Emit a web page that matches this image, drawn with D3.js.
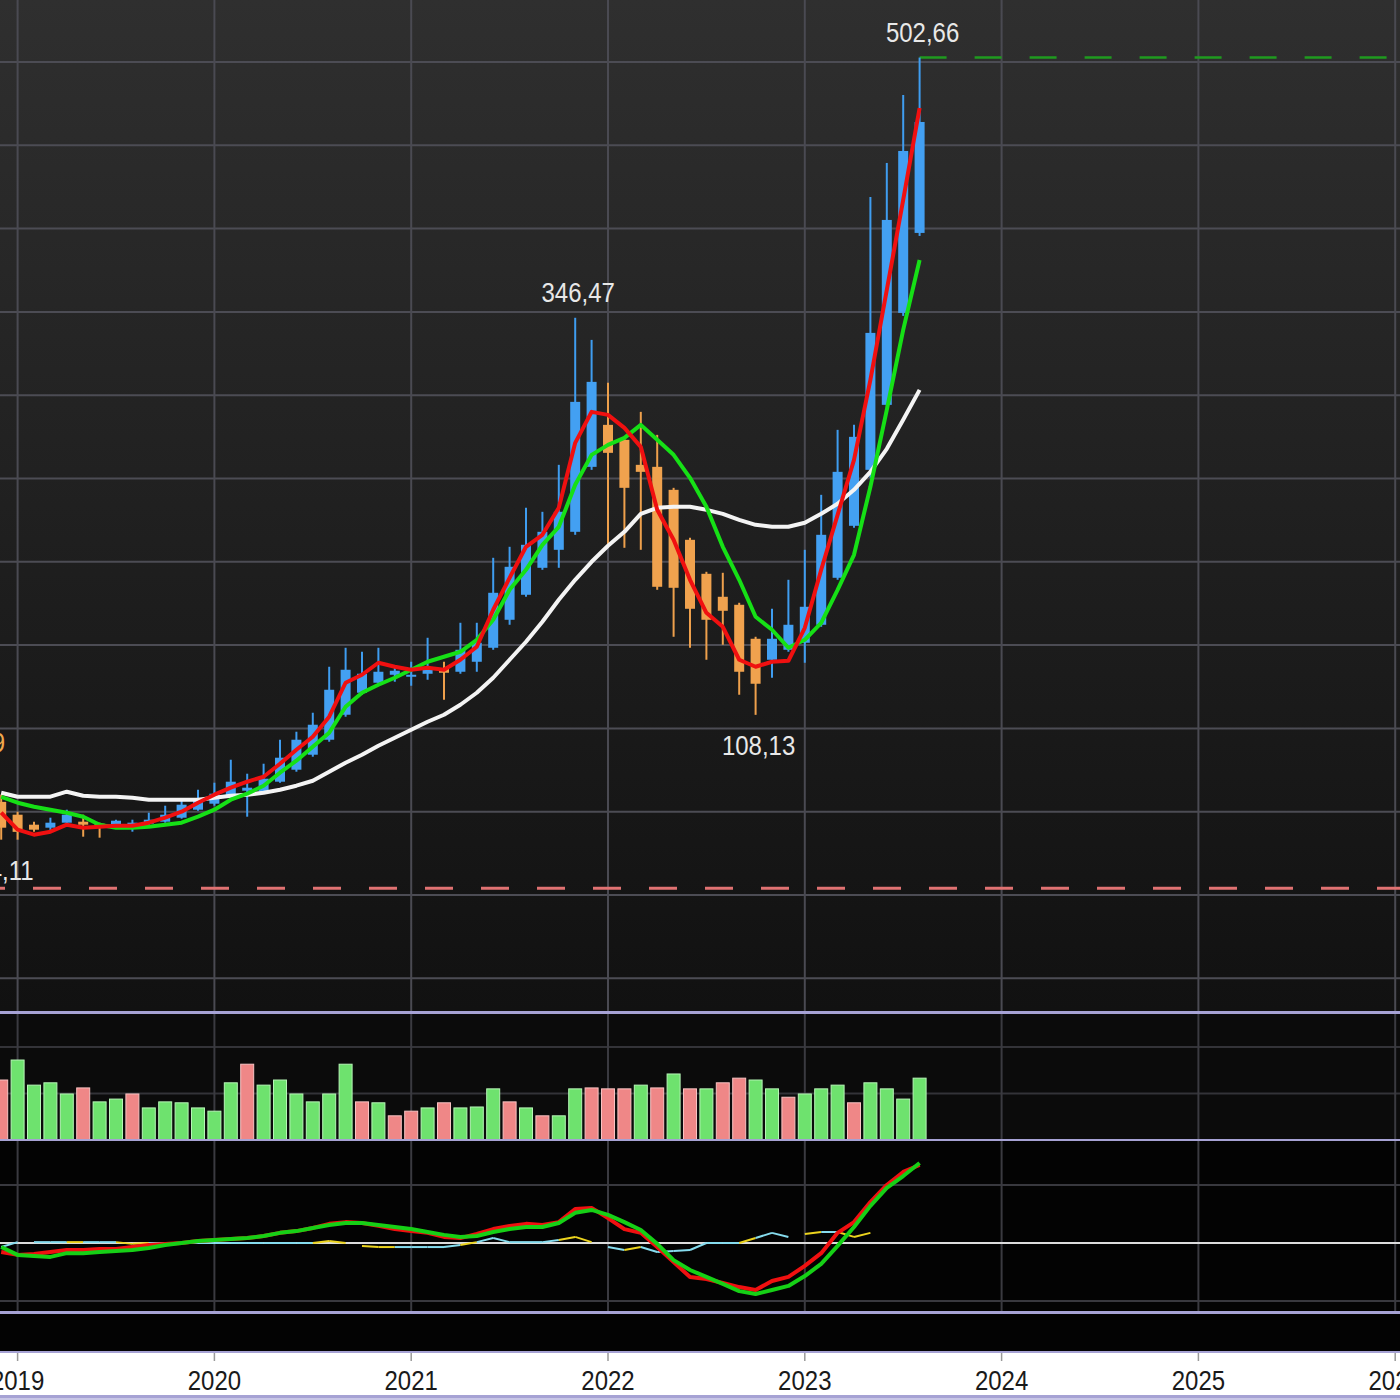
<!DOCTYPE html>
<html><head><meta charset="utf-8">
<script src="https://cdn.jsdelivr.net/npm/d3@7"></script>
<style>html,body{margin:0;padding:0;background:#fff;} svg{display:block}</style>
</head><body>
<svg id="chart" width="1400" height="1400"></svg>
<script>
// months: index 0 = Dec 2018 ... index 56 = Aug 2023
const months = ["2018-12","2019-01","2019-02","2019-03","2019-04","2019-05","2019-06","2019-07","2019-08","2019-09","2019-10","2019-11","2019-12",
"2020-01","2020-02","2020-03","2020-04","2020-05","2020-06","2020-07","2020-08","2020-09","2020-10","2020-11","2020-12",
"2021-01","2021-02","2021-03","2021-04","2021-05","2021-06","2021-07","2021-08","2021-09","2021-10","2021-11","2021-12",
"2022-01","2022-02","2022-03","2022-04","2022-05","2022-06","2022-07","2022-08","2022-09","2022-10","2022-11","2022-12",
"2023-01","2023-02","2023-03","2023-04","2023-05","2023-06","2023-07","2023-08"];
const open  = [55.9,48.2,42.2,40.4,43.4,44.0,42.8,42.2,41.6,42.8,44.0,46.4,51.2,54.8,59.6,62.6,62.0,68.0,75.2,84.2,93.2,108.2,121.4,127.4,132.2,131.0,132.8,135.8,134.0,140.0,148.4,165.2,180.2,196.4,207.2,218.0,257.0,282.2,273.2,258.2,257.0,243.2,213.2,192.8,179.0,174.2,153.8,141.2,147.2,151.4,162.2,190.4,221.6,255.2,294.2,349.4,397.4];
const high  = [60.2,50.0,44.0,46.4,51.2,48.2,43.4,45.2,45.2,49.4,53.6,57.2,63.2,67.4,81.2,72.8,78.8,93.2,98.0,109.4,137.0,148.4,146.0,148.4,136.4,140.0,154.4,140.0,163.4,163.4,202.4,209.0,232.4,230.0,258.2,346.47,333.2,307.4,274.4,290.0,276.2,244.4,214.4,194.0,193.4,175.4,155.0,171.8,189.2,207.2,240.2,279.2,282.2,419.0,439.4,480.2,502.66];
const low   = [33.2,33.2,38.0,37.4,42.2,35.0,34.4,41.6,38.0,41.6,43.4,45.8,50.6,53.6,58.4,47.0,61.4,67.4,74.0,83.0,92.0,107.0,120.2,126.8,128.0,125.6,129.2,117.2,132.8,134.0,147.2,162.2,179.0,195.2,196.4,216.2,255.2,209.0,208.4,207.2,183.2,155.0,148.4,141.2,150.2,120.2,108.13,130.4,146.0,139.4,161.0,189.2,220.4,250.4,292.4,347.6,395.6];
const close = [40.4,37.9,39.2,43.4,48.2,42.2,41.6,44.6,43.4,45.2,48.2,54.2,57.2,60.8,68.0,64.4,69.8,82.4,93.2,102.2,123.2,135.2,132.8,134.0,134.6,132.2,135.8,133.4,147.2,151.4,181.4,197.0,210.2,218.0,230.0,296.0,308.0,265.4,244.4,254.0,185.0,184.4,171.8,165.2,170.6,134.0,126.8,153.8,162.2,173.0,216.2,254.0,275.0,337.4,405.2,446.6,464.0];
const maShort = [49.4,39.2,36.2,38.0,42.2,40.4,41.0,41.6,41.6,43.4,46.4,50.0,55.4,60.2,64.4,68.0,71.0,78.8,87.2,95.0,107.0,127.4,132.2,139.4,137.0,135.2,136.4,135.2,141.2,149.0,171.2,190.4,209.0,216.2,232.4,271.4,290.0,288.2,280.4,269.0,231.2,213.2,189.2,169.4,161.0,141.2,137.0,140.0,140.6,160.4,195.2,228.2,261.2,309.2,363.2,417.2,472.4];
const maMid   = [58.9,55.4,53.0,51.2,49.4,47.0,42.2,40.4,40.4,41.0,42.2,43.4,47.0,51.2,57.2,60.8,65.6,73.4,80.6,89.0,97.4,113.0,121.4,126.2,130.4,135.2,140.0,143.0,146.0,153.2,165.2,183.2,195.2,210.2,221.0,246.2,264.2,270.2,274.4,282.2,273.2,264.2,250.4,233.0,209.0,189.2,167.0,159.2,148.4,153.2,163.4,183.2,204.2,245.0,291.2,339.2,381.2];
const maLong  = [61.4,59.0,59.0,59.0,62.0,59.6,59.0,59.0,58.4,57.2,57.2,57.2,57.2,58.4,59.6,60.2,61.4,63.2,65.6,68.6,74.0,79.4,84.2,89.6,94.4,99.2,104.0,108.2,114.2,121.4,130.4,141.2,152.0,164.0,177.2,189.2,200.0,209.6,218.0,228.8,232.4,233.0,233.0,231.2,228.8,225.2,222.2,221.0,221.0,223.4,228.8,234.8,243.2,254.0,267.8,285.2,303.2];
const volume  = [12.9,17.2,11.8,12.3,9.9,11.2,8.2,8.8,9.9,6.9,8.2,8.0,6.9,6.2,12.3,16.3,11.8,12.9,9.9,8.2,9.9,16.3,8.2,8.0,5.2,6.2,6.9,8.0,6.9,7.1,11.0,8.2,6.9,5.2,5.2,11.0,11.2,11.0,11.0,11.8,11.2,14.2,11.0,11.0,12.3,13.3,12.9,11.0,9.2,9.9,11.0,11.8,8.0,12.3,11.0,8.8,13.3];
const volUp   = [0,1,1,1,1,0,1,1,0,1,1,1,1,1,1,0,1,1,1,1,1,1,0,1,0,0,1,0,1,1,1,0,1,0,1,1,0,0,0,1,0,1,0,1,0,0,1,1,0,1,1,1,0,1,1,1,1];
const oscFast = [-3.1,-4.1,-3.8,-3.1,-2.4,-2.4,-2.1,-2.1,-1.4,-0.7,-0.3,0,0.7,1.0,1.4,1.7,2.4,3.5,4.1,5.2,6.6,7.2,6.9,5.9,4.8,4.1,3.5,2.1,1.7,3.1,4.8,5.9,6.6,6.2,7.2,11.7,12.1,8.6,4.8,3.5,-1.4,-6.6,-11.7,-12.4,-13.8,-15.2,-16.2,-13.1,-11.7,-7.9,-3.5,3.5,7.2,14.1,20.0,24.5,26.9];
const oscSlow = [-1.4,-4.1,-4.5,-4.8,-3.5,-3.5,-3.1,-2.8,-2.4,-1.7,-0.7,0,0.7,1.0,1.4,1.7,2.4,3.5,4.1,5.2,6.2,6.9,6.9,6.2,5.5,4.8,3.8,2.8,2.1,2.4,3.8,4.8,5.5,5.5,6.9,10.4,11.4,9.7,7.2,4.5,-0.3,-5.9,-9.3,-11.7,-14.1,-16.6,-17.6,-16.2,-14.8,-11.4,-7.2,-1.0,5.5,12.8,19.0,23.1,27.6];
const oscThin = [-1.4,0.3,0.3,0.3,0.3,0.3,0.3,0.3,-0.3,0,0,0,0,0,0,0,0,0,0,0,0.7,0,-1.0,-1.4,-1.4,-1.4,-1.4,-1.4,-0.7,0.3,1.7,0.3,0.3,0.3,1.0,2.1,0.3,-1.4,-2.4,-1.4,-3.1,-2.8,-2.4,0,0,0,1.7,3.5,2.1,3.1,3.8,3.8,2.1,3.5,2.4,1.7,1.7];
// segment colour from month i to i+1: c = cyan, y = yellow, - = none
const oscThinSeg = "c-ccyccyyccccccccccyy-yyccccycccccyy-cyccccccycc-ycyy--";
const yearTicks = ["2019","2020","2021","2022","2023","2024","2025","2026"];
const priceGrid = [-50,0,50,100,150,200,250,300,350,400,450,500];
const labels = [{i:56, v:502.66, text:"502,66", pos:"above"},{i:35, v:346.47, text:"346,47", pos:"above"},{i:46, v:108.13, text:"108,13", pos:"below"}];
const allTimeLow = 4.11;
const lowLabel = "4,11";
const edgeLabel = "62,69";

const svg = d3.select("#chart");
const x = d3.scaleLinear().domain([0, 84]).range([17.6, 1395.2]); // months from Jan 2019
const xi = i => x(i - 1);
const yP = d3.scaleLinear().domain([0, 500]).range([895, 62]);
const yV = d3.scaleLinear().domain([0, 20]).range([1140, 1047]);
const yO = d3.scaleLinear().domain([-20, 20]).range([1301, 1185]);

const defs = svg.append("defs");
const g = defs.append("linearGradient").attr("id","bg").attr("x1",0).attr("y1",0).attr("x2",0).attr("y2",1);
g.append("stop").attr("offset","0%").attr("stop-color","#2f2f2f");
g.append("stop").attr("offset","100%").attr("stop-color","#111111");
defs.append("clipPath").attr("id","cMain").append("rect").attr("x",0).attr("y",0).attr("width",1400).attr("height",1011);
defs.append("clipPath").attr("id","cVol").append("rect").attr("x",0).attr("y",1014).attr("width",1400).attr("height",126);
defs.append("clipPath").attr("id","cOsc").append("rect").attr("x",0).attr("y",1141).attr("width",1400).attr("height",171);

svg.append("rect").attr("x",0).attr("y",0).attr("width",1400).attr("height",1011).attr("fill","url(#bg)");
svg.append("rect").attr("x",0).attr("y",1014).attr("width",1400).attr("height",126).attr("fill","#0b0b0b");
svg.append("rect").attr("x",0).attr("y",1141).attr("width",1400).attr("height",211).attr("fill","#030303");
svg.append("rect").attr("x",0).attr("y",1353).attr("width",1400).attr("height",43).attr("fill","#ffffff");
svg.append("rect").attr("x",0).attr("y",1396).attr("width",1400).attr("height",4).attr("fill","#c8c6e6");

const yearIdx = yearTicks.map((d,k)=>k*12);
const main = svg.append("g").attr("clip-path","url(#cMain)");
main.selectAll(".hg").data(priceGrid).join("line")
  .attr("x1",0).attr("x2",1400).attr("y1",d=>yP(d)).attr("y2",d=>yP(d))
  .attr("stroke","#4c4c54").attr("stroke-width",2);
main.selectAll(".vg").data(yearIdx).join("line")
  .attr("x1",d=>x(d)).attr("x2",d=>x(d)).attr("y1",0).attr("y2",1011)
  .attr("stroke","#4a4a52").attr("stroke-width",2);

main.append("line").attr("x1",0).attr("x2",1400).attr("y1",yP(allTimeLow)).attr("y2",yP(allTimeLow))
  .attr("stroke","#e07272").attr("stroke-width",3).attr("stroke-dasharray","28,28").attr("stroke-dashoffset",23);
main.append("line").attr("x1",xi(56)).attr("x2",1400).attr("y1",yP(high[56])).attr("y2",yP(high[56]))
  .attr("stroke","#1f9a1f").attr("stroke-width",2.5).attr("stroke-dasharray","27,28");

const idx = d3.range(months.length);
const cand = main.append("g");
cand.selectAll(".wick").data(idx).join("line")
  .attr("x1",i=>xi(i)).attr("x2",i=>xi(i)).attr("y1",i=>yP(high[i])).attr("y2",i=>yP(low[i]))
  .attr("stroke",i=>close[i]>=open[i]?"#3f9df0":"#eea04c").attr("stroke-width",2);
cand.selectAll(".body").data(idx).join("rect")
  .attr("x",i=>xi(i)-5).attr("width",10)
  .attr("y",i=>yP(Math.max(open[i],close[i])))
  .attr("height",i=>Math.max(2,Math.abs(yP(open[i])-yP(close[i]))))
  .attr("fill",i=>close[i]>=open[i]?"#43a0f2":"#f0a24e");

const line = arr => d3.line().x((d,i)=>xi(i)).y(d=>yP(d))(arr);
main.append("path").attr("d",line(maLong)).attr("fill","none").attr("stroke","#f4f4f4").attr("stroke-width",4).attr("stroke-linejoin","round");
main.append("path").attr("d",line(maMid)).attr("fill","none").attr("stroke","#16e016").attr("stroke-width",4).attr("stroke-linejoin","round");
main.append("path").attr("d",line(maShort)).attr("fill","none").attr("stroke","#f01010").attr("stroke-width",4).attr("stroke-linejoin","round");

const lab = svg.append("g").attr("font-family","'Liberation Sans', Arial, sans-serif").attr("font-size",24).attr("fill","#e8e8e8").attr("text-anchor","middle");
labels.forEach(l=>{
  const ty = l.pos==="above" ? yP(l.v)-16 : yP(l.v)+40;
  lab.append("text").attr("transform",`translate(${xi(l.i)+3},${ty}) scale(1,1.15)`).text(l.text);
});
lab.append("text").attr("transform",`translate(${xi(0)+10},${yP(allTimeLow)-8}) scale(1,1.15)`).text(lowLabel);
lab.append("text").attr("transform",`translate(${xi(0)+4},${yP(60.2)-43}) scale(1,1.15)`).attr("text-anchor","end").attr("fill","#f0a84c").text(edgeLabel);

const vol = svg.append("g").attr("clip-path","url(#cVol)");
vol.selectAll(".vh").data([10,20]).join("line").attr("x1",0).attr("x2",1400).attr("y1",d=>yV(d)).attr("y2",d=>yV(d)).attr("stroke","#333338").attr("stroke-width",2);
vol.selectAll(".vv").data(yearIdx).join("line").attr("x1",d=>x(d)).attr("x2",d=>x(d)).attr("y1",1014).attr("y2",1140).attr("stroke","#3a3a40").attr("stroke-width",2);
vol.selectAll(".vb").data(idx).join("rect")
  .attr("x",i=>xi(i)-6.5).attr("width",13).attr("y",i=>yV(volume[i])).attr("height",i=>yV(0)-yV(volume[i]))
  .attr("fill",i=>volUp[i]?"#6ee26e":"#ef8787").attr("stroke",i=>volUp[i]?"#b6f5b6":"#f8c2c2").attr("stroke-width",1);

const osc = svg.append("g").attr("clip-path","url(#cOsc)");
osc.selectAll(".oh").data([-20,20]).join("line").attr("x1",0).attr("x2",1400).attr("y1",d=>yO(d)).attr("y2",d=>yO(d)).attr("stroke","#38383e").attr("stroke-width",2);
osc.selectAll(".ov").data(yearIdx).join("line").attr("x1",d=>x(d)).attr("x2",d=>x(d)).attr("y1",1141).attr("y2",1312).attr("stroke","#3a3a40").attr("stroke-width",2);
osc.append("line").attr("x1",0).attr("x2",1400).attr("y1",yO(0)).attr("y2",yO(0)).attr("stroke","#dcdcdc").attr("stroke-width",2);
const segCol = {c:"#86dcee", y:"#ecd41e"};
for (let i=0;i<oscThin.length-1;i++){
  const c = oscThinSeg[i];
  if (!segCol[c]) continue;
  osc.append("line").attr("x1",xi(i)).attr("x2",xi(i+1)).attr("y1",yO(oscThin[i])).attr("y2",yO(oscThin[i+1]))
    .attr("stroke",segCol[c]).attr("stroke-width",2);
}
const oline = arr => d3.line().x((d,i)=>xi(i)).y(d=>yO(d))(arr);
osc.append("path").attr("d",oline(oscFast)).attr("fill","none").attr("stroke","#f01010").attr("stroke-width",4).attr("stroke-linejoin","round");
osc.append("path").attr("d",oline(oscSlow)).attr("fill","none").attr("stroke","#16d016").attr("stroke-width",4).attr("stroke-linejoin","round");

[[1012.5,3],[1140,2],[1312.5,3],[1352,2]].forEach(([yy,w])=>{
  svg.append("line").attr("x1",0).attr("x2",1400).attr("y1",yy).attr("y2",yy).attr("stroke","#a6a2d4").attr("stroke-width",w);
});
svg.append("line").attr("x1",0).attr("x2",1400).attr("y1",1396.5).attr("y2",1396.5).attr("stroke","#a6a2d4").attr("stroke-width",3);

const ax = svg.append("g");
ax.selectAll(".tk").data(yearIdx).join("line").attr("x1",d=>x(d)).attr("x2",d=>x(d)).attr("y1",1353).attr("y2",1361).attr("stroke","#9a9a9a").attr("stroke-width",1.5);
ax.selectAll(".tl").data(yearTicks).join("text")
  .attr("transform",(d,k)=>`translate(${x(k*12)},1390) scale(1,1.15)`)
  .attr("text-anchor","middle").attr("font-family","'Liberation Sans', Arial, sans-serif").attr("font-size",24).attr("fill","#1a1a1a")
  .text(d=>d);
</script>
</body></html>
